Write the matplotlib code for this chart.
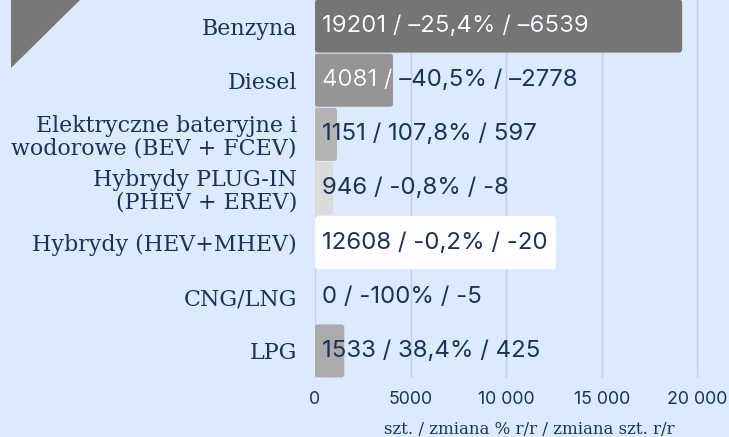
import matplotlib.pyplot as plt
from matplotlib.patches import FancyBboxPatch, Polygon
from matplotlib.transforms import Bbox, TransformedBbox

# data
categories = ["Benzyna", "Diesel", "Elektryczne bateryjne i\nwodorowe (BEV + FCEV)",
              "Hybrydy PLUG-IN\n(PHEV + EREV)", "Hybrydy (HEV+MHEV)", "CNG/LNG", "LPG"]
units = [19201, 4081, 1151, 946, 12608, 0, 1533]
pct_change = ["–25,4%", "–40,5%", "107,8%", "-0,8%", "-0,2%", "-100%", "38,4%"]
abs_change = ["–6539", "–2778", "597", "-8", "-20", "-5", "425"]
bar_colors = ["#757575", "#959595", "#b4b4b4", "#dadada", "#ffffff", "#cccccc", "#ababab"]
xticks = [0, 5000, 10000, 15000, 20000]
xtick_labels = ["0", "5000", "10 000", "15 000", "20 000"]

BG = "#dceafd"
NAVY = "#1b3358"
W, H = 729, 437

fig = plt.figure(figsize=(W / 100, H / 100), dpi=100, facecolor=BG)
ax = fig.add_axes([315 / W, (H - 378) / H, 1 - 315 / W, 379 / H])
ax.set_facecolor(BG)

xmax = (W - 315) / 95.6 * 5000
ax.set_xlim(0, xmax)
ax.set_ylim(len(categories) - 0.5, -0.5)

for x in xticks:
    ax.axvline(x, color="#c3cfe0", lw=1, zorder=0)

bars = ax.barh(range(len(categories)), units, height=0.98, color=bar_colors, zorder=1)

# swap plain bars for rounded ones (3 px corners)
xu = xmax / (W - 315)
yu = len(categories) / 379
for b in bars:
    b.set_visible(False)
    if b.get_width() <= 0:
        continue
    p = FancyBboxPatch((b.get_x(), b.get_y()), b.get_width(), b.get_height(),
                       boxstyle="round,pad=0,rounding_size=%f" % (3 * xu),
                       mutation_aspect=yu / xu, fc=b.get_facecolor(), ec="none", zorder=1)
    ax.add_patch(p)

val_font = dict(family="Inter", fontsize=17.3)
for i, (u, pc, ac) in enumerate(zip(units, pct_change, abs_change)):
    s = f"{u} / {pc} / {ac}"
    ax.annotate(s, (0, i), xytext=(5, 0), textcoords="offset points",
                va="center", ha="left", color=NAVY, zorder=3, **val_font)
    if i < 2:
        # white part only where the dark bar is underneath
        b = bars[i]
        t = ax.annotate(s, (0, i), xytext=(5, 0), textcoords="offset points",
                        va="center", ha="left", color="white", zorder=4, **val_font)
        t.set_clip_box(TransformedBbox(Bbox.from_bounds(b.get_x(), b.get_y(),
                                                        b.get_width(), b.get_height()),
                                       ax.transData))
        t.set_clip_on(True)

ax.set_yticks(range(len(categories)))
ax.set_yticklabels(categories, family="DejaVu Serif", fontsize=15.9, color=NAVY,
                   linespacing=1.05)
ax.tick_params(axis="y", length=0, pad=13)
ax.set_xticks(xticks)
ax.set_xticklabels(xtick_labels, family="Inter", fontsize=12.8, color=NAVY)
ax.tick_params(axis="x", length=0, pad=9)
for sp in ax.spines.values():
    sp.set_visible(False)

fig.text(529 / W, (H - 430) / H, "szt. / zmiana % r/r / zmiana szt. r/r",
         family="DejaVu Serif", fontsize=12, color=NAVY, ha="center", va="center")

# corner triangle
fig.add_artist(Polygon([(11 / W, 1), (80 / W, 1), (11 / W, 1 - 68 / H)],
                       closed=True, fc="#777777", ec="none", transform=fig.transFigure))

fig.savefig("out.png", dpi=100, facecolor=BG)
